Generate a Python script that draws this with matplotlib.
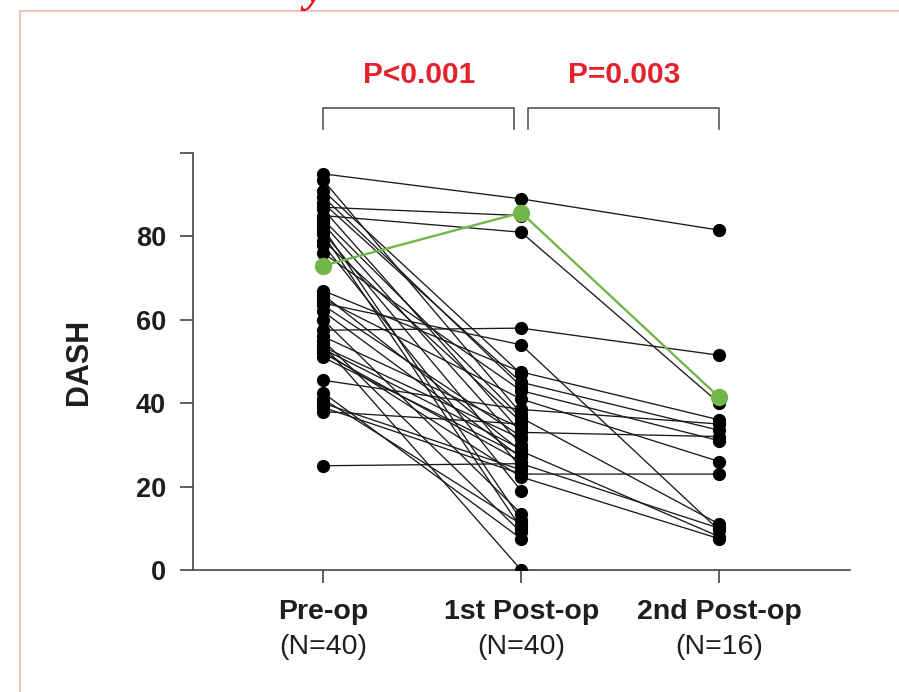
import numpy as np
import matplotlib.pyplot as plt
from matplotlib.lines import Line2D

# ===== DATA =====
groups = ["Pre-op", "1st Post-op", "2nd Post-op"]
n_labels = ["(N=40)", "(N=40)", "(N=16)"]

pre_op = [95, 93.5, 91, 89.5, 88, 87, 86.5, 85, 84, 83,
          82, 81, 80.5, 79, 78, 76, 73, 67, 66, 65,
          64, 63.5, 62, 60, 57.5, 56, 55, 54, 53.5, 53,
          52.5, 52, 51, 45.5, 42.5, 41, 40, 39, 38, 25]
post_op1 = [89, 37.5, 47, 44, 45, 85, 33, 81, 36.5, 30,
            12, 24.5, 10, 35.5, 19, 43, 85.7, 47.5, 28.5, 41,
            54, 32, 27, 13.5, 58, 34, 9, 0, 31.5, 29,
            22.3, 26, 27.5, 38.5, 7.5, 11, 24, 23, 35, 25.5]
nan = np.nan
post_op2 = [81.5, nan, nan, nan, 33.5, nan, 32, 40, 11, nan,
            nan, nan, nan, nan, nan, 31, 41.4, 36, 8, 26,
            9.5, nan, nan, nan, 51.5, nan, nan, nan, nan, nan,
            7.5, nan, nan, 35, nan, nan, nan, 23, nan, 10]
highlight = 16  # patient drawn in green

p_texts = ["P<0.001", "P=0.003"]

# ===== FIGURE =====
plt.rcParams['font.family'] = ['Liberation Sans', 'DejaVu Sans']
fig = plt.figure(figsize=(8.99, 6.92), dpi=100)
ax = fig.add_axes([193/899, 1 - 570/692, (850 - 193)/899, (570 - 153)/692])

x = np.arange(3)
dark = '#1e1e1e'
green = '#72b64a'

for i in range(len(pre_op)):
    if i == highlight:
        continue
    ys = [pre_op[i], post_op1[i], post_op2[i]]
    ax.plot(x, ys, color='#1a1a1a', lw=0.95, zorder=2)
    ax.plot(x, ys, 'o', color='black', ms=8.5, zorder=3)

ys = [pre_op[highlight], post_op1[highlight], post_op2[highlight]]
ax.plot(x, ys, color=green, lw=1.7, zorder=4)
ax.plot(x, ys, 'o', color=green, ms=11.5, zorder=5)

ax.set_xlim(-0.657, 2.66)
ax.set_ylim(0, 100)
ax.set_yticks([0, 20, 40, 60, 80, 100])
ax.set_yticklabels(['0', '20', '40', '60', '80', ''], fontsize=19.5,
                   fontweight='bold', color=dark)
ax.set_xticks(x)
ax.set_xticklabels([])
ax.tick_params(axis='both', length=9.5, width=1.2, color='#444444', pad=10)
for s in ['top', 'right']:
    ax.spines[s].set_visible(False)
for s in ['left', 'bottom']:
    ax.spines[s].set_color('#444444')
    ax.spines[s].set_linewidth(1.2)
ax.set_ylabel("DASH", fontsize=22, fontweight='bold', color=dark, labelpad=30)

# group labels
for xi, g, n in zip(x, groups, n_labels):
    ax.text(xi, -10, g, ha='center', va='center', fontsize=20.5,
            fontweight='bold', color=dark, clip_on=False)
    ax.text(xi, -18.5, n, ha='center', va='center', fontsize=20.5,
            color=dark, clip_on=False)

# brackets + p values
for (x0, x1), t in zip([(0, 0.965), (1.035, 2)], p_texts):
    ax.plot([x0, x0, x1, x1], [105.8, 110.7, 110.7, 105.8], color='#555555',
            lw=1.2, clip_on=False)
    ax.text((x0 + x1) / 2, 118.6, t, ha='center', va='center', fontsize=21.5,
            fontweight='bold', color='#e3222b', clip_on=False)

# pink frame and the clipped red glyph at the top
fig.add_artist(Line2D([20/899, 1], [1 - 11/692] * 2, color='#f3c4c6', lw=1.5))
fig.add_artist(Line2D([20/899] * 2, [0, 1 - 11/692], color='#f3c4c6', lw=1.5))
fig.text(304/899, 1 - 2/692, 'y', color='#e8101a', fontsize=32,
         style='italic', fontweight='bold', family='Liberation Serif',
         va='baseline', ha='left')

fig.savefig('out.png', dpi=100, facecolor='white')
